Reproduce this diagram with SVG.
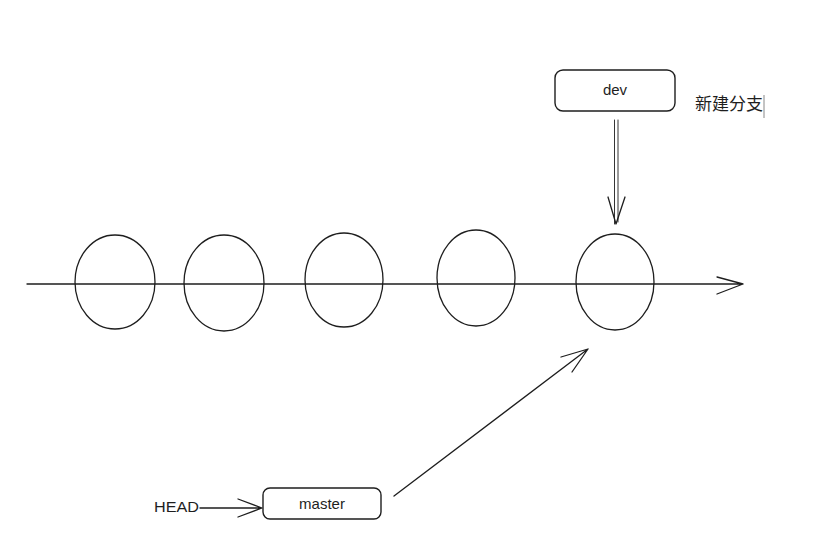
<svg xmlns="http://www.w3.org/2000/svg" width="817" height="543" viewBox="0 0 817 543">
<style>
.s{fill:none;stroke:#1e1e1e;stroke-width:1.3;stroke-linecap:round;stroke-linejoin:round}
.d{fill:none;stroke:#1e1e1e;stroke-width:0.9;stroke-linecap:round}
.b{fill:#fff;stroke:#1e1e1e;stroke-width:1.4}
.t{font-family:"Liberation Sans",sans-serif;font-size:15px;fill:#1e1e1e;text-anchor:middle}
.h{font-family:"Liberation Sans",sans-serif;font-size:14px;fill:#1e1e1e}
.c{font-family:"Noto Sans CJK SC",sans-serif;font-size:17px;fill:#1e1e1e}
</style>
<rect width="817" height="543" fill="#fff"/>
<g id="commits">
<ellipse id="c1" class="s" cx="115" cy="282" rx="40" ry="47"/>
<ellipse id="c2" class="s" cx="224" cy="283" rx="40" ry="48"/>
<ellipse id="c3" class="s" cx="344" cy="280" rx="39" ry="47"/>
<ellipse id="c4" class="s" cx="476" cy="278" rx="39" ry="48"/>
<ellipse id="c5" class="s" cx="615" cy="282" rx="39" ry="48"/>
</g>
<g id="connectors">
<path class="s" d="M27 284 L743 284 M717 277 L743 284 L717 294"/>
<path class="d" d="M614.5 120 L614.5 224 M618 120 L618 222"/>
<path class="s" d="M608 197 L616 224 L625 197"/>
<path class="s" d="M394 496 L588 349 M561 357 L588 349 L572 372"/>
<path class="s" d="M200 508 L262 508 M238 499 L262 508 L238 517"/>
</g>
<g id="dev">
<rect class="b" x="555" y="70" width="120" height="41" rx="8"/>
<text class="t" x="615" y="95">dev</text>
</g>
<g id="master">
<rect class="b" x="263" y="488" width="118" height="31" rx="7"/>
<text class="t" x="322" y="509">master</text>
</g>
<g id="head">
<text class="h" x="154" y="512" textLength="45" lengthAdjust="spacingAndGlyphs">HEAD</text>
</g>
<g id="label">
<text class="c" x="695" y="110">新建分支</text>
<line x1="764" y1="95" x2="764" y2="118" stroke="#888" stroke-width="1"/>
</g>
</svg>
